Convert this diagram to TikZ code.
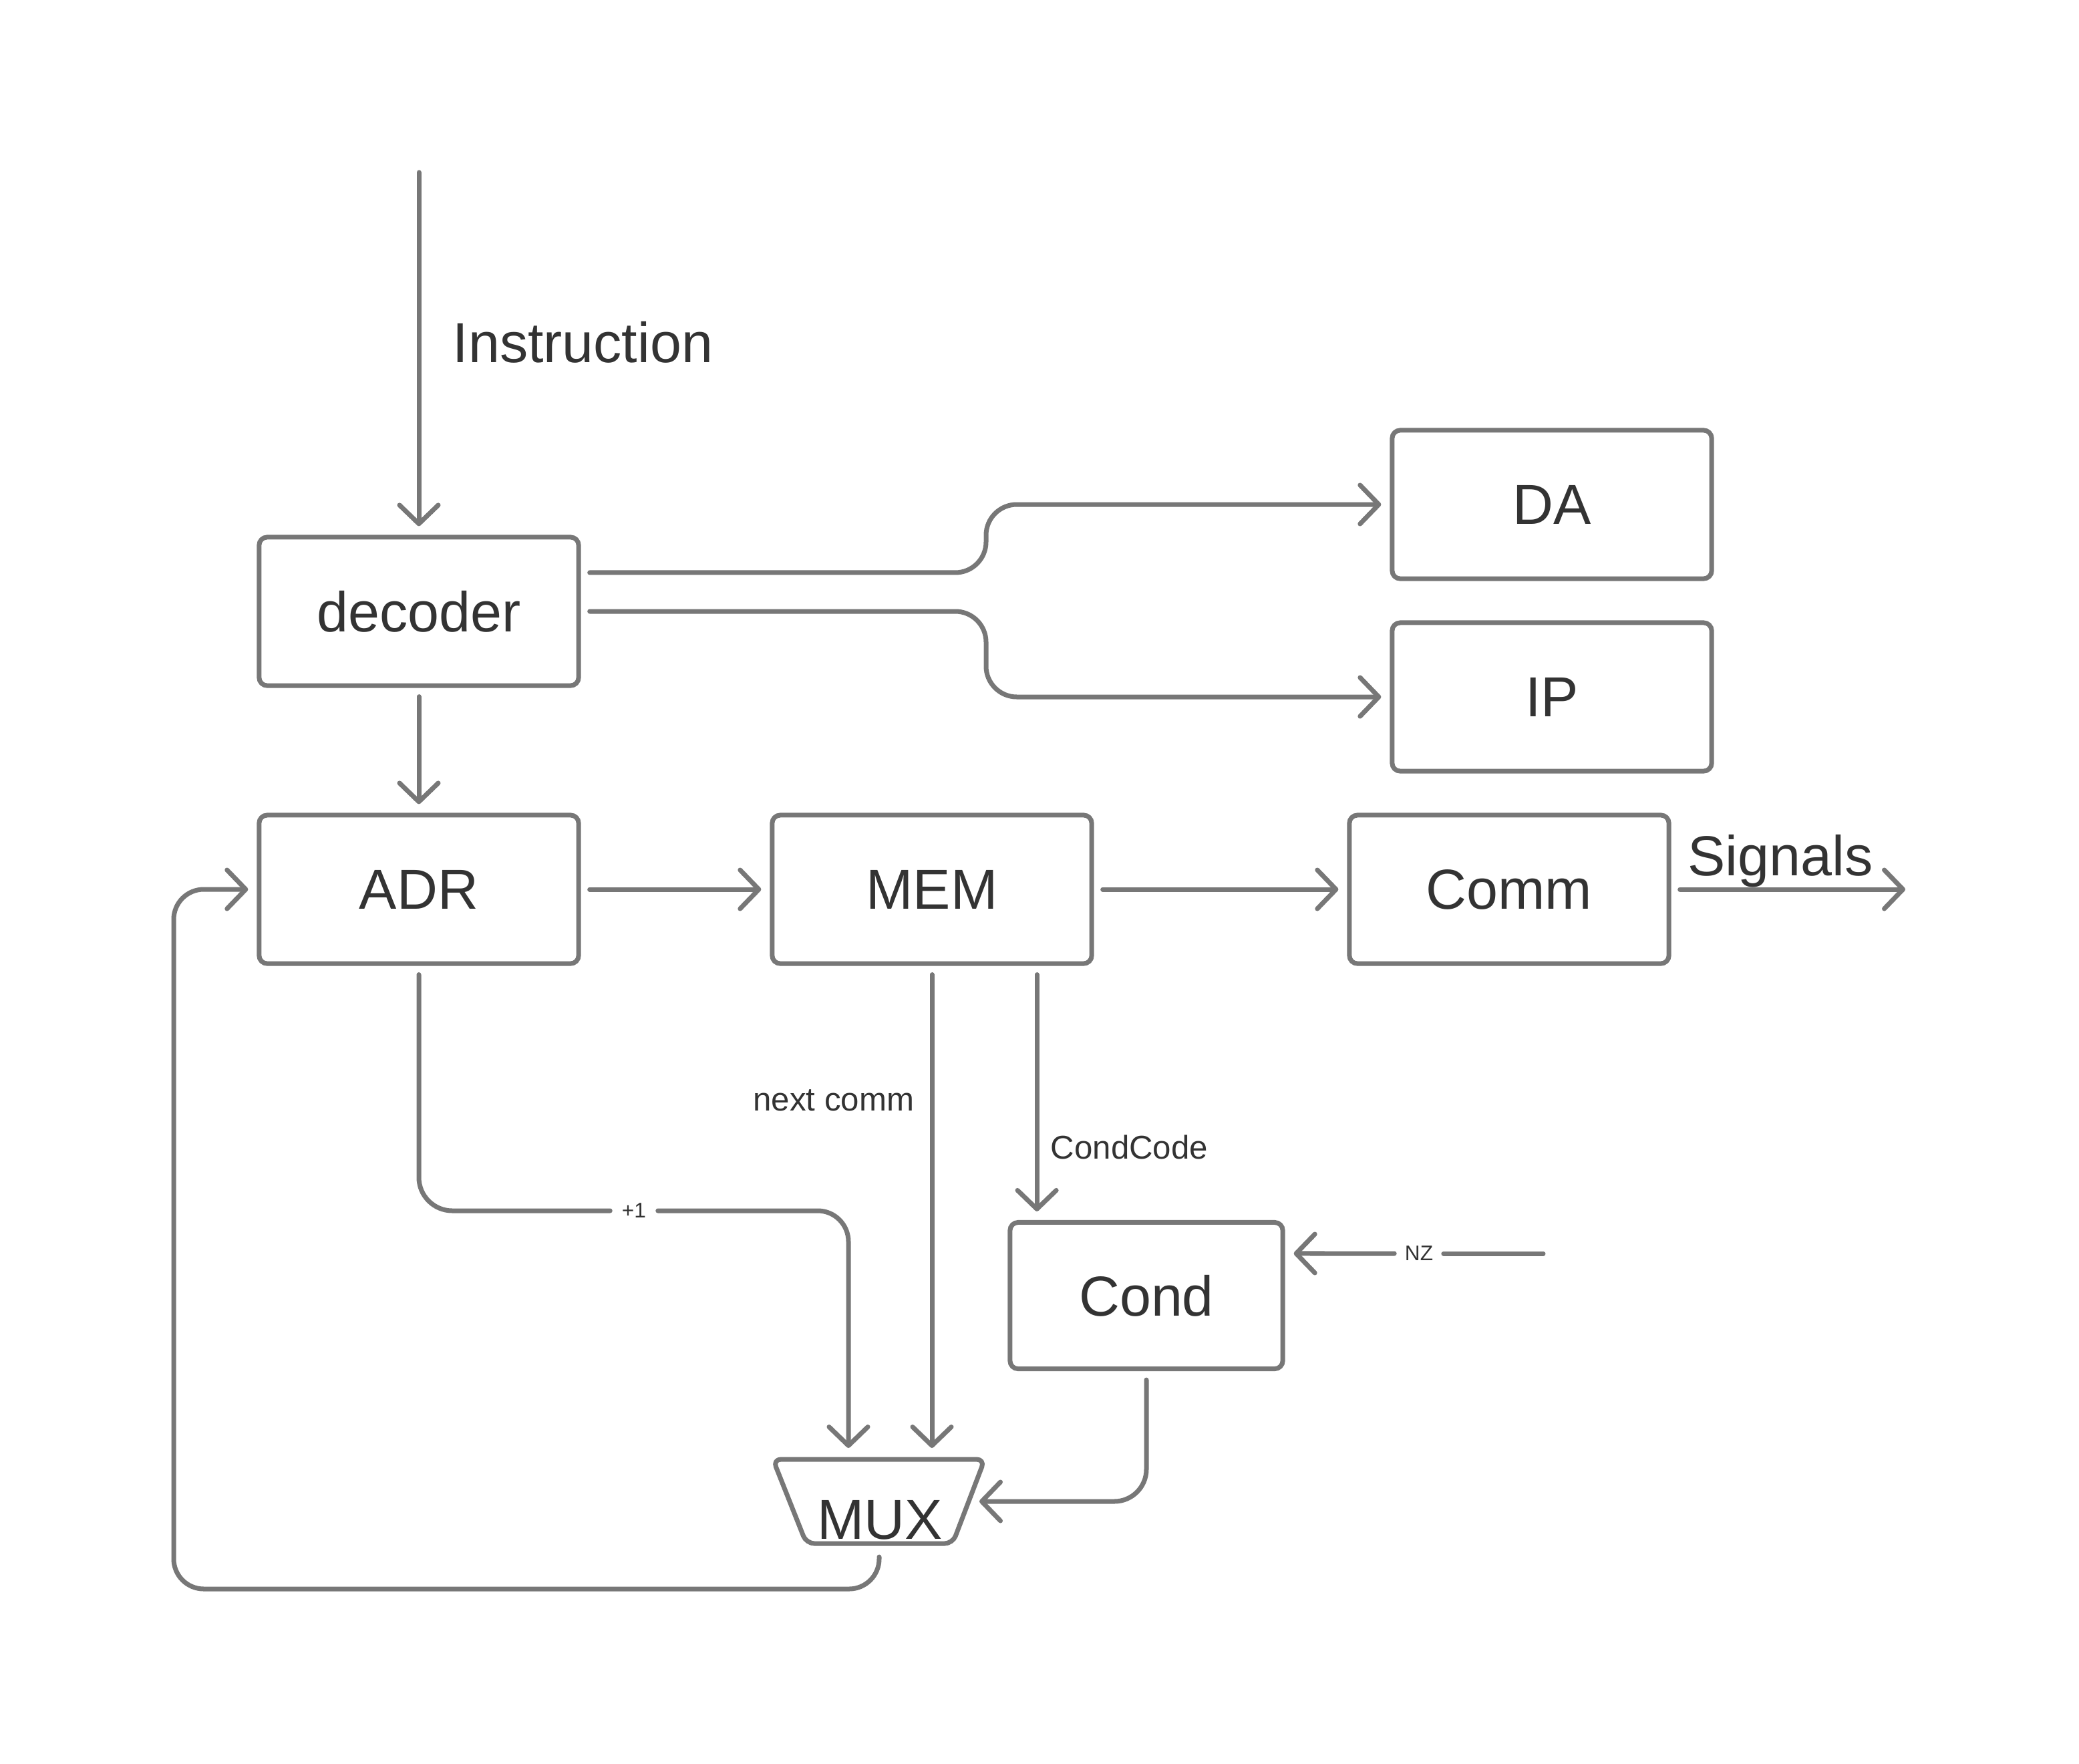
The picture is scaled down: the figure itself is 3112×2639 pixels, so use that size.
\documentclass[tikz,border=0pt]{standalone}
\usepackage{fontspec}
\setmainfont{Liberation Sans}
\usetikzlibrary{arrows.meta,calc}
\definecolor{linec}{HTML}{777777}
\definecolor{textc}{HTML}{333333}
\begin{document}
\begin{tikzpicture}[x=0.01cm,y=-0.01cm,
  box/.style={draw=linec, line width=0.07cm, rounded corners=0.12cm, minimum width=4.78cm, minimum height=2.22cm, text=textc, font=\fontsize{24}{28}\selectfont, inner sep=0pt},
  wire/.style={draw=linec, line width=0.07cm, line cap=round, line join=round},
  arr/.style={wire, -{Straight Barb[length=0.28cm,width=0.58cm,round]}, shorten <=0.13cm, shorten >=0.13cm},
  big/.style={text=textc, font=\fontsize{24}{28}\selectfont, inner sep=0pt},
  mid/.style={text=textc, font=\fontsize{14}{17}\selectfont, inner sep=0pt},
  small/.style={text=textc, font=\fontsize{9}{11}\selectfont, inner sep=0.15cm},
]
\useasboundingbox[fill=white] (0,0) rectangle (3112,2639);

% boxes
\node[box] (dec) at (627,915) {decoder};
\node[box] (adr) at (627,1331) {ADR};
\node[box] (mem) at (1395,1331) {MEM};
\node[box] (comm) at (2259,1331) {Comm};
\node[box] (da) at (2323,755) {DA};
\node[box] (ip) at (2323,1043) {IP};
\node[box, minimum width=4.08cm, minimum height=2.19cm] (cond) at (1716,1939) {Cond};

% MUX trapezium
\draw[draw=linec, line width=0.07cm, rounded corners=0.12cm, line join=round]
  (1157,2184) -- (1474,2184) -- (1426,2310) -- (1207,2310) -- cycle;
\node[big, anchor=base] (muxlabel) at (1317,2303) {MUX};
\coordinate (muxin1) at (1270,2180);
\coordinate (muxin2) at (1395,2180);
\coordinate (muxr) at (1453,2247);
\coordinate (muxbot) at (1316,2314);

% free ends and routing points
\coordinate (instart) at (627,258);
\coordinate (sigend) at (2852,1331);
\coordinate (nzstart) at (2310,1876);
\coordinate (splitx) at (1476,900);
\coordinate (loopcorner) at (260,2378);

% labels
\node[big, anchor=west] (instr) at (677,512) {Instruction};
\node[big, anchor=base] (sig) at (2665,1310) {Signals};
\node[mid, anchor=east] (nextc) at (1369,1647) {next comm};
\node[mid, anchor=west] (condc) at (1572,1717) {CondCode};
\node[small, inner sep=0.17cm] (plus) at (949,1812) {+1};
\node[small] (nz) at (2124,1876) {NZ};

% connectors
\draw[arr, shorten <=0pt] (instart) -- (dec.north);
\draw[arr] (dec.south) -- (adr.north);
\draw[arr, rounded corners=0.46cm] ([yshift=0.58cm]dec.east) -- ([yshift=0.58cm]dec.east -| splitx) -- (splitx |- da.west) -- (da.west);
\draw[arr, rounded corners=0.46cm] (dec.east) -- (dec.east -| splitx) -- (splitx |- ip.west) -- (ip.west);
\draw[arr] (adr.east) -- (mem.west);
\draw[arr] (mem.east) -- (comm.west);
\draw[arr, shorten >=0pt] (comm.east) -- (sigend);
\draw[wire, rounded corners=0.5cm, shorten <=0.13cm] (adr.south) |- (plus.west);
\draw[arr, rounded corners=0.46cm, shorten <=0pt] (plus.east) -| (muxin1);
\draw[arr] (mem.south) -- (muxin2);
\draw[arr] ([xshift=1.57cm]mem.south) -- ([xshift=1.57cm]mem.south |- cond.north);
\draw[wire] (nzstart) -- (nz.east);
\draw[arr, shorten <=0pt] (nz.west) -- ([yshift=0.63cm]cond.east);
\draw[arr, rounded corners=0.48cm] (cond.south) |- (muxr);
\draw[arr, rounded corners=0.45cm, shorten <=0.16cm] (muxbot) |- (loopcorner) |- (adr.west);
\end{tikzpicture}
\end{document}
